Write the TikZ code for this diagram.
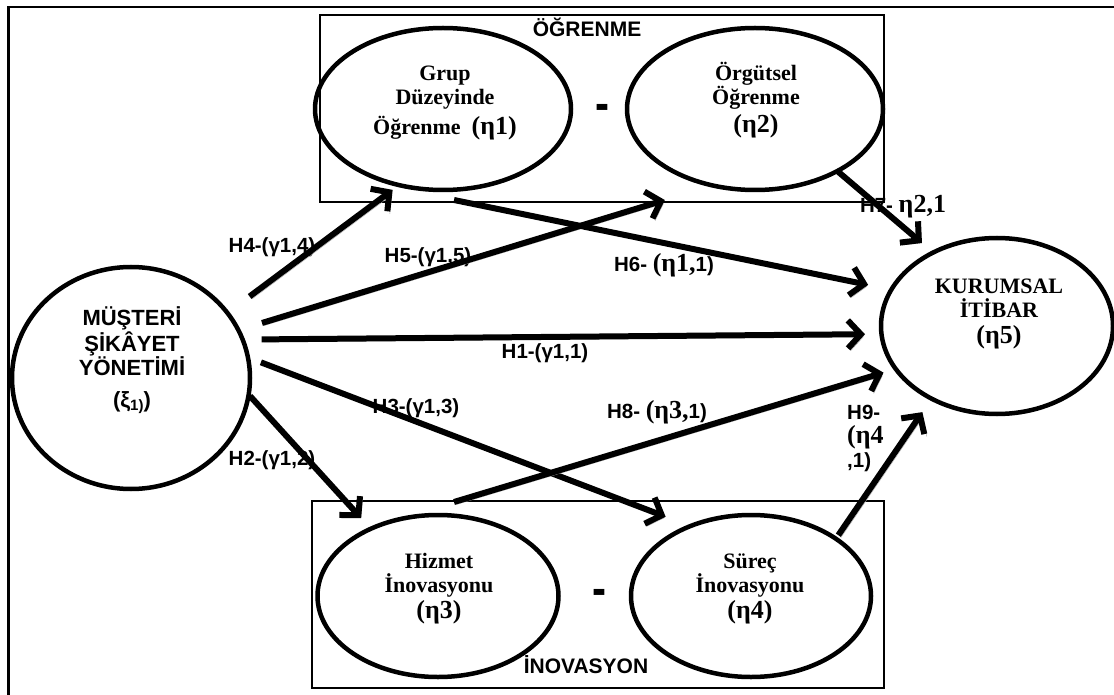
\documentclass[tikz,border=0pt]{standalone}
\usepackage{fontspec}
\setmainfont{Liberation Serif}
\setsansfont{Liberation Sans}
\usetikzlibrary{shapes.geometric,arrows.meta}

\tikzset{
  construct/.style={ellipse, draw, line width=4.5pt, inner sep=0pt, outer sep=0pt},
  groupbox/.style={draw, line width=1.8pt, inner sep=0pt, outer sep=0pt},
  hyp/.style={line width=6pt, -{Straight Barb[length=13pt,width=28pt]},
    preaction={draw=black!35, transform canvas={shift={(2.5pt,-2.5pt)}}}},
  lab/.style={font=\sffamily\bfseries\fontsize{20.5}{24}\selectfont, inner sep=0pt},
  ctext/.style={font=\rmfamily\bfseries\fontsize{22}{24}\selectfont, align=center, inner sep=0pt, anchor=base},
  stext/.style={font=\sffamily\bfseries\fontsize{22}{24}\selectfont, align=center, inner sep=0pt, anchor=base},
  gtitle/.style={font=\sffamily\bfseries\fontsize{21}{24}\selectfont, inner sep=0pt, anchor=base},
  sep/.style={font=\sffamily\bfseries\fontsize{28}{28}\selectfont, inner sep=0pt}
}
\newcommand{\etaf}[1]{{\rmfamily\fontsize{26}{24}\selectfont(η#1)}}
\newcommand{\gk}[1]{{\rmfamily\fontsize{26}{24}\selectfont #1}}
\newcommand{\thickdash}{\scalebox{1.5}[1.8]{-}}

\begin{document}
\begin{tikzpicture}[x=1pt,y=-1pt]
\useasboundingbox (0,0) rectangle (1114,695);

% frame
\draw[line width=2.3pt] (1114,7) -- (8.6,7) -- (8.6,695);

% group boxes
\node[groupbox, minimum width=564, minimum height=187] (ogr) at (602,108.5) {};
\node[groupbox, minimum width=572, minimum height=187] (ino) at (598,594.5) {};
\node[gtitle] (ogrt) at (587,37) {ÖĞRENME};
\node[gtitle] (inot) at (586,673) {İNOVASYON};

% constructs
\node[construct, minimum width=238, minimum height=222] (m) at (131,378) {};
\node[construct, minimum width=256, minimum height=162] (e1) at (443,109) {};
\node[construct, minimum width=256, minimum height=162] (e2) at (755,109) {};
\node[construct, minimum width=241, minimum height=162] (e3) at (438,596) {};
\node[construct, minimum width=240, minimum height=162] (e4) at (751,596) {};
\node[construct, minimum width=232, minimum height=176] (k) at (997,326) {};

% construct texts (anchored at the baseline of the last line)
\node[stext] (mt) at (132,407) {MÜŞTERİ\\ŞİKÂYET\\YÖNETİMİ\\[8pt](ξ{\fontsize{15}{15}\selectfont\raisebox{-3pt}{1)}})};
\node[ctext] (e1t) at (445,135) {Grup\\Düzeyinde\\[6pt]Öğrenme\ \ \etaf{1}};
\node[ctext] (e2t) at (756,133) {Örgütsel\\Öğrenme\\[4pt]\etaf{2}};
\node[ctext] (e3t) at (439,618) {Hizmet\\İnovasyonu\\[2pt]\etaf{3}};
\node[ctext] (e4t) at (750,618) {Süreç\\İnovasyonu\\[2pt]\etaf{4}};
\node[ctext] (kt) at (999,343) {KURUMSAL\\İTİBAR\\[2pt]\etaf{5}};

\node[sep] (d1) at (602,112) {\thickdash};
\node[sep] (d2) at (599,597) {\thickdash};

% path labels
\node[lab] (l4) at (272,247) {H4-(γ1,4)};
\node[lab] (l5) at (428,257) {H5-(γ1,5)};
\node[lab] (l6) at (664,265) {H6- \gk{(η1,}1)};
\node[lab] (l7) at (903,207) {H7- \gk{η2,1}};
\node[lab] (l1) at (545,353) {H1-(γ1,1)};
\node[lab] (l3) at (416,408) {H3-(γ1,3)};
\node[lab] (l2) at (272,460) {H2-(γ1,2)};
\node[lab] (l8) at (657,412) {H8- \gk{(η3,}1)};
\node[lab, align=left, anchor=west] (l9) at (847,438) {H9-\\\gk{(η4}\\,1)};

% hypothesised paths
\draw[hyp, shorten <=27.6pt, shorten >=8pt] (m.34) -- (e1.240);
\draw[hyp, shorten <=24.7pt, shorten >=50pt] (m.24) -- (e2.241);
\draw[hyp, shorten >=23.7pt] ([shift={(11,10)}]e1.south) -- (k.161);
\draw[hyp, shorten <=19pt, shorten >=16.5pt] (m.19) -- (k.184);
\draw[hyp, shorten <=1.3pt, shorten >=14.7pt] (e2.323) -- (k.131);
\draw[hyp, shorten <=13.9pt, shorten >=26.4pt] (m.10) -- (e4.131);
\draw[hyp, shorten <=1.9pt, shorten >=14.3pt] (m.352) -- (e3.135);
\draw[hyp, shorten >=12.8pt] ([shift={(16,-13)}]e3.north) -- (k.203);
\draw[hyp, shorten <=4.3pt, shorten >=16.3pt] (e4.34) -- (k.228);
\end{tikzpicture}
\end{document}
